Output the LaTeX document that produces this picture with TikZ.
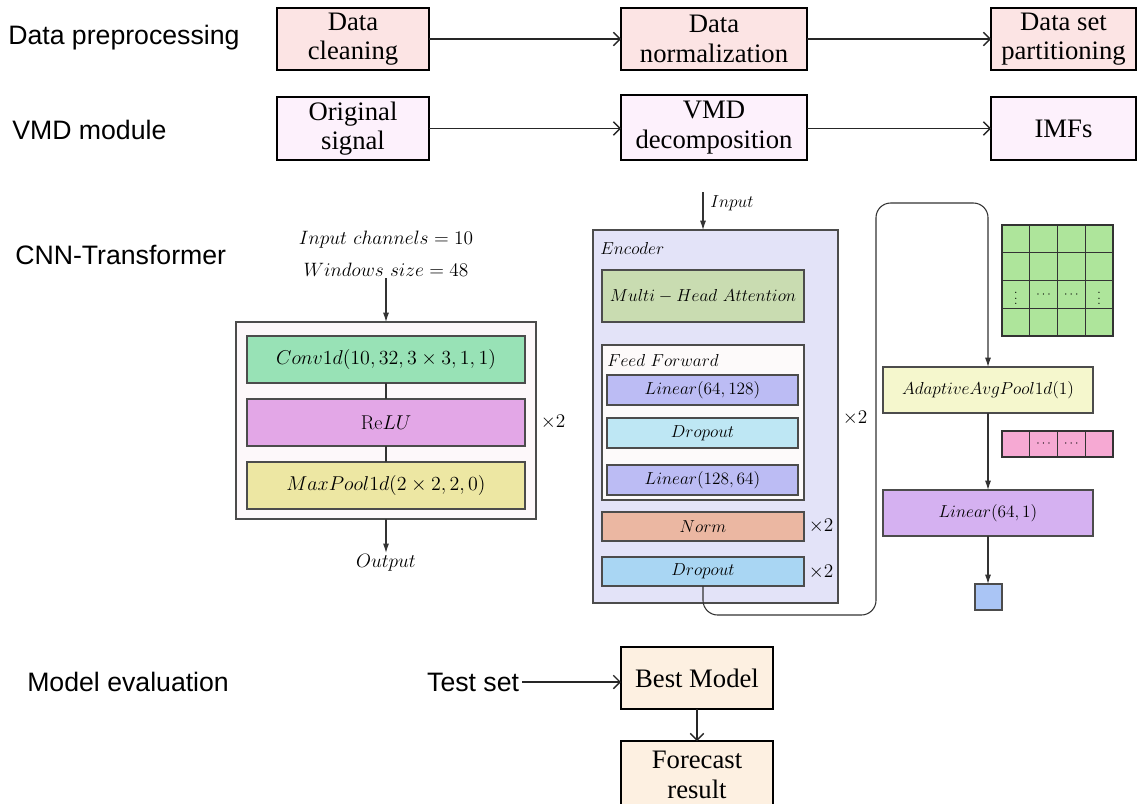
\documentclass[tikz,border=0pt]{standalone}
\usepackage{fix-cm}
\usepackage{fontspec}
\newfontfamily\lsans{Liberation Sans}
\newfontfamily\tnr{Liberation Serif}
\usetikzlibrary{arrows.meta}
\definecolor{datafill}{HTML}{FCE4E4}
\definecolor{vmdfill}{HTML}{FDF1FC}
\definecolor{evalfill}{HTML}{FDF0E1}
\definecolor{cnnout}{HTML}{FDF8FA}
\definecolor{convc}{HTML}{98E2B6}
\definecolor{reluc}{HTML}{E3A7E7}
\definecolor{poolc}{HTML}{EDE7A3}
\definecolor{encc}{HTML}{E3E3F8}
\definecolor{mhac}{HTML}{C9DCB1}
\definecolor{ffc}{HTML}{FDFAFA}
\definecolor{linc}{HTML}{BCBCF4}
\definecolor{dropa}{HTML}{BEE7F4}
\definecolor{normc}{HTML}{EBB7A2}
\definecolor{dropb}{HTML}{A9D6F3}
\definecolor{apoolc}{HTML}{F5F7CD}
\definecolor{gridc}{HTML}{AEE59B}
\definecolor{pinkc}{HTML}{F6A9D3}
\definecolor{lin3c}{HTML}{D5B1F1}
\definecolor{sqc}{HTML}{AAC5F5}
\newcommand\bx[7]{\node[#6, minimum width={(#4-#2)*0.75pt}, minimum height={(#5-#3)*0.75pt}] (#1) at ({(#2+#4)/2},{(#3+#5)/2}) {#7};}
\begin{document}
\begin{tikzpicture}[x=0.75pt,y=-0.75pt,
  topbox/.style={draw=black, line width=1.4pt, inner sep=0pt, outer sep=0pt, align=center, font=\tnr\fontsize{20}{22}\selectfont},
  nnbox/.style={draw=black!70, line width=0.8pt, inner sep=0pt, outer sep=0pt, font=\fontsize{15}{17}\selectfont},
  encbox/.style={draw=black!70, line width=0.8pt, inner sep=0pt, outer sep=0pt, font=\fontsize{13}{15}\selectfont},
  lbl/.style={anchor=west, inner sep=0pt, font=\lsans\fontsize{20}{24}\selectfont},
  mlbl/.style={inner sep=1pt, font=\fontsize{14.5}{16}\selectfont},
  elbl/.style={inner sep=0pt, font=\fontsize{13}{15}\selectfont},
  openarr/.style={draw=black!85, line width=1pt, -{Straight Barb[length=5pt,width=10pt]}},
  latarr/.style={draw=black!80, line width=0.8pt, -{Latex[length=7pt,width=4.5pt]}},
  plainline/.style={draw=black!80, line width=0.8pt},
  cell/.style={draw=black!80, line width=0.8pt},
  dots/.style={inner sep=0pt, font=\small}
]
\clip (0,0) rectangle (1137,803);
\fill[white] (0,0) rectangle (1137,803);

% left labels
\node[lbl] (l1) at (8,38) {Data preprocessing};
\node[lbl] (l2) at (12,130) {VMD module};
\node[lbl] (l3) at (15,255) {CNN-Transformer};
\node[lbl] (l4) at (27,682) {Model evaluation};

% top rows
\bx{dc}{277}{8}{429}{70}{topbox,fill=datafill}{Data\\cleaning}
\bx{dn}{621}{8}{807}{70}{topbox,fill=datafill}{Data\\normalization}
\bx{dp}{991}{8}{1136}{70}{topbox,fill=datafill}{Data set\\partitioning}
\draw[openarr] (dc.east) -- (dn.west);
\draw[openarr] (dn.east) -- (dp.west);

\bx{os}{277}{97}{429}{160}{topbox,fill=vmdfill}{Original\\signal}
\bx{vd}{621}{95}{807}{160}{topbox,fill=vmdfill}{VMD\\decomposition}
\bx{imf}{991}{97}{1136}{160}{topbox,fill=vmdfill}{IMFs}
\draw[openarr] (os.east) -- (vd.west|-os.east);
\draw[openarr] (vd.east|-os.east) -- (imf.west|-os.east);

% CNN block
\node[mlbl] (inch) at (386,240) {$Input\ channels=10$};
\node[mlbl] (win) at (386,270) {$Windows\ size=48$};
\bx{cnn}{236}{322}{536}{519}{nnbox,fill=cnnout}{}
\bx{conv}{247}{336}{525}{383}{nnbox,fill=convc}{$Conv1d(10,32,3\times3,1,1)$}
\bx{relu}{247}{399}{525}{446}{nnbox,fill=reluc}{$\mathrm{Re}LU$}
\bx{mp}{247}{462}{525}{509}{nnbox,fill=poolc}{$MaxPool1d(2\times2,2,0)$}
\draw[plainline] (conv.south) -- (relu.north);
\draw[plainline] (relu.south) -- (mp.north);
\draw[latarr] (win.south) -- (cnn.north);
\node[mlbl] (out) at (386,563) {$Output$};
\draw[latarr] (cnn.south) -- (out.north);
\node[mlbl] (x1) at (553,422) {$\times2$};

% Encoder
\coordinate (inps) at (703,192);
\node[elbl, anchor=west] (inp) at (710,203) {$Input$};
\bx{enc}{593}{230}{838}{603}{encbox,fill=encc}{}
\draw[latarr] (inps) -- (inps|-enc.north);
\node[elbl, anchor=west] (encl) at (600,248) {$Encoder$};
\bx{mha}{602}{270}{804}{322}{encbox,fill=mhac}{$Multi-Head\ Attention$}
\bx{ff}{602}{345}{804}{500}{encbox,fill=ffc}{}
\node[elbl, anchor=west] (ffl) at (607,360) {$Feed\ Forward$};
\bx{lina}{607}{375}{798}{405}{encbox,fill=linc}{$Linear(64,128)$}
\bx{dra}{607}{418}{798}{448}{encbox,fill=dropa}{$Dropout$}
\bx{linb}{607}{465}{798}{495}{encbox,fill=linc}{$Linear(128,64)$}
\bx{norm}{602}{512}{804}{541}{encbox,fill=normc}{$Norm$}
\bx{drb}{602}{557}{804}{586}{encbox,fill=dropb}{$Dropout$}
\node[mlbl] (x2) at (821,526) {$\times2$};
\node[mlbl] (x3) at (821,572) {$\times2$};
\node[mlbl] (x4) at (855,418) {$\times2$};

% right column
\bx{apool}{883}{367}{1093}{413}{encbox,fill=apoolc}{$AdaptiveAvgPool1d(1)$}
\bx{lin3}{883}{490}{1093}{536}{encbox,fill=lin3c}{$Linear(64,1)$}
\bx{sq}{975}{584}{1002}{610}{encbox,fill=sqc}{}
\draw[latarr, rounded corners=11pt] (drb.south) -- (703,615) -- (876,615) -- (876,203) -- (988,203) -- (apool.north-|988,0);
\draw[latarr] (apool.south-|988,0) -- (lin3.north-|988,0);
\draw[latarr] (lin3.south-|988,0) -- (sq.north-|988,0);

% grid
\foreach \i in {0,...,3}{
  \foreach \j in {0,...,3}{
    \draw[cell, fill=gridc] ({1002+27.75*\i},{225+27.75*\j}) rectangle ++(27.75,27.75);
  }
}
\node[dots] (g1) at ({1002+27.75*0.5},{225+27.75*2.5}) {$\vdots$};
\node[dots] (g2) at ({1002+27.75*1.5},{225+27.75*2.5}) {$\cdots$};
\node[dots] (g3) at ({1002+27.75*2.5},{225+27.75*2.5}) {$\cdots$};
\node[dots] (g4) at ({1002+27.75*3.5},{225+27.75*2.5}) {$\vdots$};

% pink bar
\foreach \i in {0,...,3}{
  \draw[cell, fill=pinkc] ({1002+27.75*\i},431) rectangle ++(27.75,26);
}
\node[dots] (p1) at ({1002+27.75*1.5},444) {$\cdots$};
\node[dots] (p2) at ({1002+27.75*2.5},444) {$\cdots$};

% model evaluation
\node[lbl, anchor=east, inner sep=2pt] (test) at (522,682) {Test set};
\bx{best}{621}{647}{773}{709}{topbox,fill=evalfill}{Best Model}
\bx{fore}{621}{741}{773}{809}{topbox,fill=evalfill}{Forecast\\result}
\draw[openarr] (test.east) -- (best.west|-test.east);
\draw[openarr] (best.south) -- (fore.north);
\end{tikzpicture}
\end{document}
